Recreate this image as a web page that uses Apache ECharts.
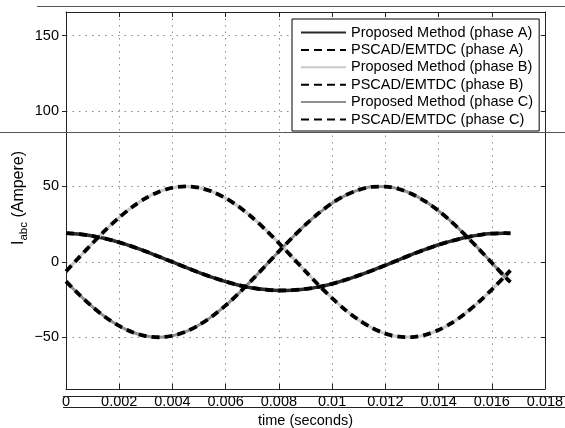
<!DOCTYPE html>
<html>
<head>
<meta charset="utf-8">
<script src="https://cdn.jsdelivr.net/npm/echarts@6/dist/echarts.min.js"></script>
<style>
  html, body { margin: 0; padding: 0; background: #fff; }
  #chart { width: 565px; height: 428px; }
</style>
</head>
<body>
<div id="chart"></div>
<script>
// Sample instants (s) over one 60 Hz cycle
const timeSec = [0, 0.0005, 0.001, 0.0015, 0.002, 0.0025, 0.003, 0.0035, 0.004, 0.0045,
  0.005, 0.0055, 0.006, 0.0065, 0.007, 0.0075, 0.008, 0.0085, 0.009, 0.0095,
  0.01, 0.0105, 0.011, 0.0115, 0.012, 0.0125, 0.013, 0.0135, 0.014, 0.0145,
  0.015, 0.0155, 0.016, 0.0165, 0.0167];

// Phase currents (A), proposed method
const proposedA = [19.0, 18.4, 17.1, 15.3, 12.9, 10.1, 6.9, 3.4, -0.1, -3.7,
  -7.1, -10.3, -13.1, -15.5, -17.3, -18.4, -19.0, -18.8, -18.0, -16.6,
  -14.6, -12.0, -9.0, -5.8, -2.3, 1.3, 4.9, 8.2, 11.3, 13.9,
  16.1, 17.7, 18.7, 19.0, 18.9];
const proposedB = [-6.3, 3.1, 12.4, 21.3, 29.4, 36.5, 42.2, 46.5, 49.1, 50.0,
  49.1, 46.5, 42.2, 36.5, 29.4, 21.3, 12.4, 3.1, -6.3, -15.5,
  -24.1, -31.9, -38.5, -43.8, -47.6, -49.6, -49.9, -48.4, -45.2, -40.5,
  -34.2, -26.8, -18.4, -9.4, -5.7];
const proposedC = [-13.0, -21.8, -29.9, -36.9, -42.5, -46.7, -49.2, -50.0, -49.0, -46.3,
  -41.9, -36.0, -28.9, -20.7, -11.8, -2.5, 6.9, 16.0, 24.6, 32.3,
  38.9, 44.1, 47.7, 49.7, 49.9, 48.3, 45.0, 40.1, 33.8, 26.3,
  17.8, 8.8, -0.6, -10.0, -13.5];

// Phase currents (A), PSCAD/EMTDC reference simulation
const pscadA = [19.0, 18.4, 17.1, 15.3, 12.9, 10.1, 6.9, 3.4, -0.1, -3.7,
  -7.1, -10.3, -13.1, -15.5, -17.3, -18.4, -19.0, -18.8, -18.0, -16.6,
  -14.6, -12.0, -9.0, -5.8, -2.3, 1.3, 4.9, 8.2, 11.3, 13.9,
  16.1, 17.7, 18.7, 19.0, 18.9];
const pscadB = [-6.3, 3.1, 12.4, 21.3, 29.4, 36.5, 42.2, 46.5, 49.1, 50.0,
  49.1, 46.5, 42.2, 36.5, 29.4, 21.3, 12.4, 3.1, -6.3, -15.5,
  -24.1, -31.9, -38.5, -43.8, -47.6, -49.6, -49.9, -48.4, -45.2, -40.5,
  -34.2, -26.8, -18.4, -9.4, -5.7];
const pscadC = [-13.0, -21.8, -29.9, -36.9, -42.5, -46.7, -49.2, -50.0, -49.0, -46.3,
  -41.9, -36.0, -28.9, -20.7, -11.8, -2.5, 6.9, 16.0, 24.6, 32.3,
  38.9, 44.1, 47.7, 49.7, 49.9, 48.3, 45.0, 40.1, 33.8, 26.3,
  17.8, 8.8, -0.6, -10.0, -13.5];

const seriesNames = [
  'Proposed Method (phase A)', 'PSCAD/EMTDC (phase A)',
  'Proposed Method (phase B)', 'PSCAD/EMTDC (phase B)',
  'Proposed Method (phase C)', 'PSCAD/EMTDC (phase C)'
];
const yTicks = [-50, 0, 50, 100, 150];

const FONT = 'Liberation Sans, Arial, Helvetica, sans-serif';
const pair = (vals) => vals.map((v, i) => [timeSec[i], v]);

function proposed(name, vals, color, width) {
  return {
    name, type: 'line', data: pair(vals), symbol: 'none', smooth: 0.3, z: 2,
    lineStyle: { color, width, type: 'solid' }, itemStyle: { color }
  };
}
function pscad(name, vals) {
  return {
    name, type: 'line', data: pair(vals), symbol: 'none', smooth: 0.3, z: 3,
    lineStyle: { color: '#000', width: 3.8, type: [8, 5] }, itemStyle: { color: '#000' }
  };
}

const chart = echarts.init(document.getElementById('chart'), null, { renderer: 'canvas' });
chart.setOption({
  animation: false,
  backgroundColor: '#fff',
  textStyle: { fontFamily: FONT },
  grid: { left: 66, right: 20, top: 12, bottom: 39, containLabel: false, outerBoundsMode: 'none' },
  legend: {
    data: seriesNames,
    orient: 'vertical',
    left: 292, top: 19,
    padding: [6, 6, 4, 8],
    itemWidth: 45, itemHeight: 14, itemGap: 2.4,
    itemStyle: { opacity: 0 },
    backgroundColor: '#fff', borderColor: '#000', borderWidth: 1, borderRadius: 0,
    textStyle: { fontFamily: FONT, fontSize: 14.5, color: '#000', lineHeight: 15 }
  },
  xAxis: [{
    type: 'value', min: 0, max: 0.018, interval: 0.002, position: 'bottom',
    name: 'time (seconds)', nameLocation: 'middle', nameGap: 18,
    nameTextStyle: { fontFamily: FONT, fontSize: 14.5, color: '#000' },
    axisLine: { show: true, onZero: false, lineStyle: { color: '#222', width: 1 } },
    axisTick: { show: true, inside: true, length: 5, lineStyle: { color: '#222' } },
    axisLabel: { fontFamily: FONT, fontSize: 14.5, color: '#000', margin: 5,
      formatter: (v) => String(+v.toFixed(3)) },
    splitLine: { show: true, lineStyle: { color: '#8a8a8a', width: 1, type: [1.5, 5] } }
  }, {
    type: 'value', min: 0, max: 0.018, interval: 0.002, position: 'top',
    axisLine: { show: true, onZero: false, lineStyle: { color: '#222', width: 1 } },
    axisTick: { show: true, inside: true, length: 5, lineStyle: { color: '#222' } },
    axisLabel: { show: false }, splitLine: { show: false }
  }],
  yAxis: [{
    type: 'value', min: -84.3, max: 165.6, position: 'left',
    axisLine: { show: true, onZero: false, lineStyle: { color: '#222', width: 1 } },
    axisTick: { show: true, inside: false, length: 4, customValues: yTicks, lineStyle: { color: '#222' } },
    axisLabel: { fontFamily: FONT, fontSize: 14.5, color: '#000', margin: 7, customValues: yTicks,
      formatter: (v) => String(v).replace('-', '\u2212') },
    splitLine: { show: true, lineStyle: { color: '#8a8a8a', width: 1, type: [1.5, 5] } }
  }, {
    type: 'value', min: -84.3, max: 165.6, position: 'right',
    axisLine: { show: true, onZero: false, lineStyle: { color: '#222', width: 1 } },
    axisTick: { show: true, inside: true, length: 4, customValues: yTicks, lineStyle: { color: '#222' } },
    axisLabel: { show: false }, splitLine: { show: false }
  }],
  series: [
    proposed(seriesNames[0], proposedA, '#2a2a2a', 3.5),
    pscad(seriesNames[1], pscadA),
    proposed(seriesNames[2], proposedB, '#c9c9c9', 3),
    pscad(seriesNames[3], pscadB),
    proposed(seriesNames[4], proposedC, '#8f8f8f', 3),
    pscad(seriesNames[5], pscadC)
  ],
  graphic: [
    { type: 'line', shape: { x1: 37, y1: 6.5, x2: 565, y2: 6.5 }, style: { stroke: '#555', lineWidth: 1 }, z: 10 },
    { type: 'line', shape: { x1: 0, y1: 132.5, x2: 565, y2: 132.5 }, style: { stroke: '#555', lineWidth: 1 }, z: 10 },
    { type: 'line', shape: { x1: 63, y1: 396.5, x2: 565, y2: 396.5 }, style: { stroke: '#222', lineWidth: 1 }, z: 10 },
    { type: 'line', shape: { x1: 63, y1: 407.5, x2: 565, y2: 407.5 }, style: { stroke: '#222', lineWidth: 1 }, z: 10 },
    {
      type: 'text', x: 19, y: 198, rotation: Math.PI / 2, z: 10,
      style: {
        text: '{m|I}{s|abc}{m| (Ampere)}',
        align: 'center', verticalAlign: 'middle',
        rich: {
          m: { fontFamily: FONT, fontSize: 16, fill: '#000', lineHeight: 22, verticalAlign: 'middle' },
          s: { fontFamily: FONT, fontSize: 11.5, fill: '#000', lineHeight: 22, padding: [10, 0, 0, 0], verticalAlign: 'middle' }
        }
      }
    }
  ]
});
</script>
</body>
</html>
